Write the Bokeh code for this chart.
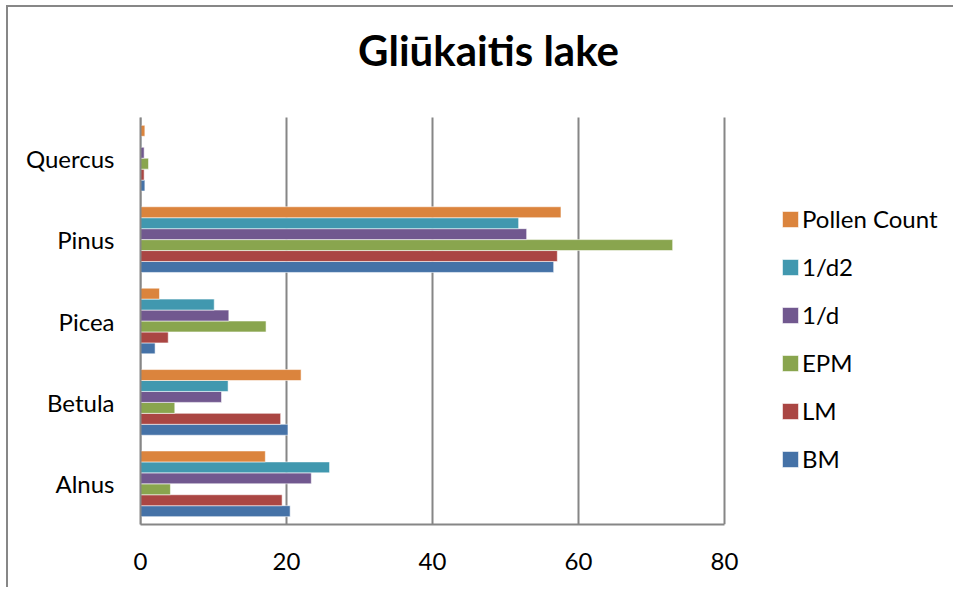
from bokeh.plotting import figure
from bokeh.models import (ColumnDataSource, Range1d, FixedTicker, Label,
                          Legend, LegendItem)
from bokeh.transform import dodge
from bokeh.embed import file_html
from bokeh.resources import INLINE

# Taxa (bottom to top) and the six estimates for each
taxa = ["Alnus", "Betula", "Picea", "Pinus", "Quercus"]
bm = [20.5, 20.2, 2.0, 56.6, 0.6]
lm = [19.4, 19.2, 3.8, 57.1, 0.5]
epm = [4.1, 4.7, 17.2, 72.9, 1.1]
inv_d = [23.4, 11.1, 12.1, 52.9, 0.5]
inv_d2 = [25.9, 12.0, 10.1, 51.8, 0.1]
pollen_count = [17.1, 22.0, 2.6, 57.6, 0.6]

series_names = ["BM", "LM", "EPM", "1/d", "1/d2", "Pollen Count"]
series_values = [bm, lm, epm, inv_d, inv_d2, pollen_count]
series_colors = ["#4572A7", "#AA4643", "#89A54E", "#71588F", "#4198AF", "#DB843D"]
x_ticks = [0, 20, 40, 60, 80]
title_text = "Gliūkaitis lake"

FONT = "Lato"
GRID = "#868686"

# canvas geometry (px)
W, H = 947, 582
LEFT, RIGHT, BOTTOM = 132, 2, 65
PX_PER_UNIT = 7.3          # value axis
BAND_PX = 81.4             # one taxon band

n = len(taxa)
centers = [k + 0.5 for k in range(n)]
source = ColumnDataSource(dict(taxon=taxa, pos=centers,
                               **{nm: v for nm, v in zip(series_names, series_values)}))

# the frame fills the canvas so the title and legend can live inside it;
# axis lines and grid are bounded to the data region
frame_w = W - LEFT - RIGHT
frame_h = H - BOTTOM
p = figure(
    width=W, height=H,
    x_range=Range1d(0, frame_w / PX_PER_UNIT),
    y_range=Range1d(0, frame_h / BAND_PX),
    output_backend="svg", toolbar_location=None,
    min_border_left=LEFT, min_border_right=RIGHT,
    min_border_top=0, min_border_bottom=BOTTOM,
)
p.styles = {"border-top": "2px solid #878787", "border-left": "2px solid #878787",
            "margin-left": "6px", "margin-top": "5px"}

# vertical gridlines at the value ticks, spanning only the taxon bands
p.segment(x0=x_ticks, x1=x_ticks, y0=[0] * len(x_ticks), y1=[n] * len(x_ticks),
          line_color=GRID, line_width=2)

# grouped horizontal bars
group_frac = 0.807
bar_h = group_frac / len(series_names)
renderers = []
for i, (name, color) in enumerate(zip(series_names, series_colors)):
    off = -group_frac / 2 + bar_h * (i + 0.5)
    r = p.hbar(y=dodge("pos", off), left=0, right=name,
               height=bar_h, source=source, fill_color=color,
               line_color="white", line_alpha=0.55, line_width=1)
    renderers.append(r)

# axes
p.xaxis.ticker = FixedTicker(ticks=x_ticks)
p.xaxis.bounds = (0, max(x_ticks))
p.yaxis.ticker = FixedTicker(ticks=centers)
p.yaxis.major_label_overrides = {c: t for c, t in zip(centers, taxa)}
p.yaxis.bounds = (0, n)
for ax in (p.xaxis, p.yaxis):
    ax.axis_line_color = GRID
    ax.axis_line_width = 2
    ax.major_tick_line_color = None
    ax.minor_tick_line_color = None
    ax.major_label_text_font = FONT
    ax.major_label_text_font_size = "24px"
    ax.major_label_text_color = "black"
p.xaxis.major_label_standoff = 22
p.yaxis.major_label_standoff = 20

p.xgrid.grid_line_color = None
p.ygrid.grid_line_color = None
p.outline_line_color = None

# chart title, placed in screen units from the frame's bottom-left
p.add_layout(Label(
    x=348, y=475, x_units="screen", y_units="screen", text=title_text,
    text_align="center", text_baseline="alphabetic",
    text_font=FONT, text_font_size="42px", text_font_style="bold", text_color="black",
))

legend = Legend(
    items=[LegendItem(label=nm, renderers=[r]) for nm, r in
           reversed(list(zip(series_names, renderers)))],
    location=(640, 51), orientation="vertical",
    label_text_font=FONT, label_text_font_size="24px", label_text_color="black",
    glyph_width=20, glyph_height=20, label_standoff=2, spacing=19,
    padding=0, margin=0, border_line_color=None, background_fill_alpha=0,
)
p.add_layout(legend, "center")

open("out.html", "w").write(file_html(p, INLINE))
